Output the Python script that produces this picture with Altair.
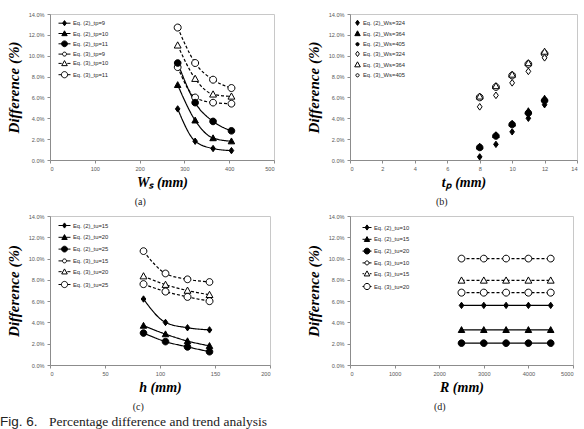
import altair as alt
import pandas as pd

# ---------------- data ----------------
# (a) difference vs. stiffener spacing Ws for three plate thicknesses
a_x = [285, 324, 364, 405]
a_names = ["Eq. (2)_tp=9", "Eq. (2)_tp=10", "Eq. (2)_tp=11",
           "Eq. (3)_tp=9", "Eq. (3)_tp=10", "Eq. (3)_tp=11"]
a_eq2_tp9 = [4.9, 1.8, 1.1, 0.9]
a_eq2_tp10 = [7.2, 3.8, 2.1, 1.8]
a_eq2_tp11 = [9.3, 5.5, 3.7, 2.8]
a_eq3_tp9 = [8.9, 6.0, 5.5, 5.4]
a_eq3_tp10 = [11.0, 7.8, 6.3, 6.1]
a_eq3_tp11 = [12.7, 9.3, 7.7, 6.9]

# (b) difference vs. plate thickness tp for three spacings
b_x = [8, 9, 10, 11, 12]
b_names = ["Eq. (2)_Ws=324", "Eq. (2)_Ws=364", "Eq. (2)_Ws=405",
           "Eq. (3)_Ws=324", "Eq. (3)_Ws=364", "Eq. (3)_Ws=405"]
b_eq2_ws324 = [0.3, 1.5, 2.7, 4.0, 5.3]
b_eq2_ws364 = [1.3, 2.4, 3.5, 4.7, 5.9]
b_eq2_ws405 = [1.2, 2.3, 3.4, 4.5, 5.7]
b_eq3_ws324 = [5.1, 6.2, 7.4, 8.5, 9.8]
b_eq3_ws364 = [6.1, 7.1, 8.2, 9.3, 10.4]
b_eq3_ws405 = [6.0, 7.0, 8.1, 9.2, 10.2]

# (c) difference vs. stiffener height h for three tu values
c_x = [85, 105, 125, 145]
c_names = ["Eq. (2)_tu=15", "Eq. (2)_tu=20", "Eq. (2)_tu=25",
           "Eq. (3)_tu=15", "Eq. (3)_tu=20", "Eq. (3)_tu=25"]
c_eq2_tu15 = [6.2, 4.0, 3.5, 3.3]
c_eq2_tu20 = [3.7, 2.9, 2.25, 1.8]
c_eq2_tu25 = [3.0, 2.2, 1.7, 1.25]
c_eq3_tu15 = [10.7, 8.6, 8.05, 7.8]
c_eq3_tu20 = [8.35, 7.55, 7.0, 6.6]
c_eq3_tu25 = [7.6, 6.9, 6.4, 6.0]

# (d) difference vs. radius R for three tu values
d_x = [2500, 3000, 3500, 4000, 4500]
d_names = ["Eq. (2)_tu=10", "Eq. (2)_tu=15", "Eq. (2)_tu=20",
           "Eq. (3)_tu=10", "Eq. (3)_tu=15", "Eq. (3)_tu=20"]
d_eq2_tu10 = [5.6, 5.6, 5.6, 5.6, 5.6]
d_eq2_tu15 = [3.3, 3.3, 3.3, 3.3, 3.3]
d_eq2_tu20 = [2.05, 2.05, 2.05, 2.05, 2.05]
d_eq3_tu10 = [10.0, 10.0, 10.0, 10.0, 10.0]
d_eq3_tu15 = [7.95, 7.95, 7.95, 7.95, 7.95]
d_eq3_tu20 = [6.8, 6.8, 6.8, 6.8, 6.8]

y_ticks = [0, 2, 4, 6, 8, 10, 12, 14]
fig_tag = ["Fig. 6."]
fig_text = ["Percentage difference and trend analysis"]

# ---------------- marker geometry ----------------
def circle_path(r):
    return f"M{-r:.3f},0A{r:.3f},{r:.3f} 0 1,0 {r:.3f},0A{r:.3f},{r:.3f} 0 1,0 {-r:.3f},0Z"


def marker_path(kind, r):
    if kind == "diamond":
        return f"M0,{-r:.3f}L{0.72 * r:.3f},0L0,{r:.3f}L{-0.72 * r:.3f},0Z"
    if kind == "triangle":
        return f"M0,{-r:.3f}L{r:.3f},{0.8 * r:.3f}L{-r:.3f},{0.8 * r:.3f}Z"
    return circle_path(r)


def legend_path(kind, r, dashed, half_len):
    """Legend key: short line (solid or broken) with the marker in the middle."""
    m = marker_path(kind, r)
    if half_len <= 0:
        return m
    L = f"{half_len:.3f}"
    if dashed:
        return f"M-{L},0L{-r:.3f},0M{r:.3f},0L{L},0" + m
    return f"M-{L},0L{L},0" + m


# style rows: (marker, filled, plot radius px, legend radius px, dashed)
line_styles = [
    ("diamond", True, 3.2, 2.6, False),
    ("triangle", True, 3.5, 2.7, False),
    ("circle", True, 3.6, 2.9, False),
    ("circle", False, 2.6, 2.0, True),
    ("triangle", False, 3.7, 2.8, True),
    ("circle", False, 4.2, 3.1, True),
]
scatter_styles = [
    ("diamond", True, 3.2, 2.6, False),
    ("triangle", True, 3.4, 2.7, False),
    ("circle", True, 1.7, 1.6, False),
    ("diamond", False, 3.2, 2.6, False),
    ("triangle", False, 3.8, 2.8, False),
    ("circle", False, 1.6, 1.6, False),
]

FONT_SANS = "Liberation Sans"
FONT_SERIF = "Liberation Serif"
LEG_SIZE = 81  # legend symbol box: 9 px


def panel(x_vals, names, series, styles, x_dom, x_ticks, x_title, caption,
          width, height, with_lines, line_px, leg_x, leg_y, leg_rowpad, leg_lab_off):
    rows = []
    # later series first, so the first-listed markers are painted on top
    for name, ys in reversed(list(zip(names, series))):
        eq = "2" if "(2)" in name else "3"
        for xv, yv in zip(x_vals, ys):
            rows.append({"x": xv, "y": yv, "series": name, "eq": eq})
    df = pd.DataFrame(rows)

    unit = (LEG_SIZE ** 0.5) / 2.0
    pt_paths = [marker_path(s[0], 1.0) for s in styles]
    pt_sizes = [(2 * s[2]) ** 2 for s in styles]
    fills = ["black" if s[1] else "white" for s in styles]
    half_len = (line_px / 2.0) / unit if with_lines else 0
    leg_paths = [legend_path(s[0], s[3] / unit, s[4], half_len) for s in styles]

    legend = alt.Legend(
        title=None, orient="none", legendX=leg_x, legendY=leg_y, padding=0,
        labelFont=FONT_SANS, labelFontSize=5.8, labelColor="#2b2b2b", labelOffset=leg_lab_off,
        symbolSize=LEG_SIZE, rowPadding=leg_rowpad, symbolStrokeWidth=1, symbolOpacity=1,
    )

    x_enc = alt.X("x:Q", scale=alt.Scale(domain=x_dom, nice=False, zero=False),
                  axis=alt.Axis(values=x_ticks, format="d", title=x_title))
    y_enc = alt.Y("y:Q", scale=alt.Scale(domain=[0, 14], nice=False),
                  axis=alt.Axis(values=y_ticks, title="Difference (%)",
                                labelExpr="format(datum.value, '.1f') + '%'"))
    base = alt.Chart(df).encode(x=x_enc, y=y_enc)

    layers = []
    if with_lines:
        layers.append(base.mark_line(interpolate="monotone", color="black", strokeWidth=1.2).encode(
            detail="series:N",
            strokeDash=alt.StrokeDash("eq:N", scale=alt.Scale(domain=["2", "3"], range=[[1, 0], [3, 2]]),
                                      legend=None),
        ))
    layers.append(base.mark_point(opacity=1, strokeWidth=1, stroke="black").encode(
        shape=alt.Shape("series:N", scale=alt.Scale(domain=names, range=pt_paths), legend=None),
        fill=alt.Fill("series:N", scale=alt.Scale(domain=names, range=fills), legend=None),
        size=alt.Size("series:N", scale=alt.Scale(domain=names, range=pt_sizes), legend=None),
    ))
    # key layer: draws no marks, only carries the legend with line+marker symbols
    layers.append(base.transform_filter("false").mark_point(opacity=1, strokeWidth=1, stroke="black").encode(
        shape=alt.Shape("series:N", scale=alt.Scale(domain=names, range=leg_paths), legend=legend),
        fill=alt.Fill("series:N", scale=alt.Scale(domain=names, range=fills), legend=legend),
    ))
    return alt.layer(*layers).resolve_scale(
        shape="independent", fill="independent", size="independent"
    ).properties(
        width=width, height=height,
        title=alt.TitleParams(caption, orient="bottom", anchor="middle", frame="bounds",
                              font=FONT_SERIF, fontSize=10, fontWeight="normal", color="#222222",
                              offset=7),
    )


pa = panel(a_x, a_names, [a_eq2_tp9, a_eq2_tp10, a_eq2_tp11, a_eq3_tp9, a_eq3_tp10, a_eq3_tp11],
           line_styles, [0, 500], [0, 100, 200, 300, 400, 500], "W\u209b (mm)", "(a)",
           224, 146, True, 12, 9.5, 4.2, 0.3, 3.5)
pb = panel(b_x, b_names, [b_eq2_ws324, b_eq2_ws364, b_eq2_ws405, b_eq3_ws324, b_eq3_ws364, b_eq3_ws405],
           scatter_styles, [0, 14], [0, 2, 4, 6, 8, 10, 12, 14], "t\u209a (mm)", "(b)",
           227, 146, False, 0, 2.5, 3.8, 0.7, 0.5)
pc = panel(c_x, c_names, [c_eq2_tu15, c_eq2_tu20, c_eq2_tu25, c_eq3_tu15, c_eq3_tu20, c_eq3_tu25],
           line_styles, [0, 200], [0, 50, 100, 150, 200], "h (mm)", "(c)",
           220, 149, True, 12, 9.5, 4.5, 1.8, 3.5)
pd_ = panel(d_x, d_names, [d_eq2_tu10, d_eq2_tu15, d_eq2_tu20, d_eq3_tu10, d_eq3_tu15, d_eq3_tu20],
            line_styles, [0, 5000], [0, 1000, 2000, 3000, 4000, 5000], "R (mm)", "(d)",
            223, 149, True, 9, 12, 6.5, 1.8, 2)

caption = alt.layer(
    alt.Chart(pd.DataFrame({"t": fig_tag})).mark_text(
        font=FONT_SANS, fontSize=13.5, align="left", baseline="alphabetic", color="#222222"
    ).encode(text="t:N", x=alt.value(-50), y=alt.value(5)),
    alt.Chart(pd.DataFrame({"t": fig_text})).mark_text(
        font=FONT_SERIF, fontSize=13.5, align="left", baseline="alphabetic", color="#222222"
    ).encode(text="t:N", x=alt.value(-1), y=alt.value(5)),
).properties(width=1, height=1, view=alt.ViewBackground(strokeOpacity=0))

chart = alt.concat(
    pa, pb, pc, pd_, caption, columns=2, bounds="flush",
    spacing=alt.RowColnumber(row=56, column=76),
).properties(
    padding={"left": 0, "top": 11, "right": 0, "bottom": 0},
    background="white",
).configure_view(
    stroke="#c8c8c8", strokeWidth=1
).configure_axis(
    grid=False, labelFont=FONT_SANS, labelFontSize=5.6, labelColor="#595959",
    domainColor="#8c8c8c", tickColor="#8c8c8c", tickSize=3, labelPadding=3,
    titleFont=FONT_SERIF, titleFontStyle="italic", titleFontWeight="bold", titleColor="black",
).configure_axisY(
    titleFontSize=15, titlePadding=7
).configure_axisX(
    titleFontSize=14, titlePadding=4
)

chart.save("out.html", embed_options={"renderer": "svg", "actions": False})
